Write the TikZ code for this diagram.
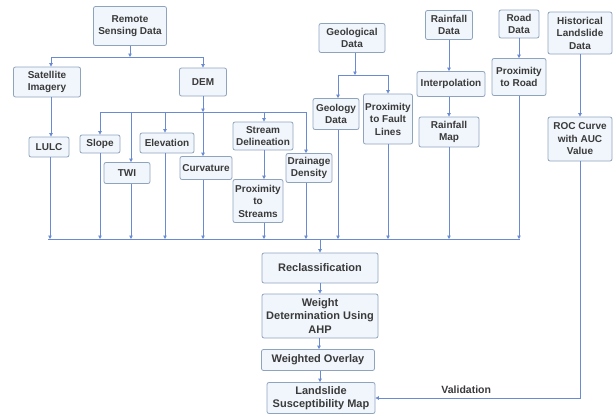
\documentclass[tikz,border=0pt]{standalone}
\usepackage{fontspec}
\setmainfont{Liberation Sans}
\usepackage{xcolor}
\usetikzlibrary{arrows.meta, positioning, calc}

\definecolor{boxline}{HTML}{8EA3BE}
\definecolor{boxfill}{HTML}{F1F6FC}
\definecolor{wire}{HTML}{6A8BD2}
\definecolor{txt}{HTML}{3A3A3A}

\begin{document}
\begin{tikzpicture}[
          x=1pt, y=-1pt,
          box/.style={rectangle, draw=boxline, fill=boxfill, rounded corners=2pt, line width=0.8pt, inner sep=1pt, align=center, text=txt, font=\fontsize{10}{12.5}\selectfont\bfseries},
          stage/.style={box, font=\fontsize{11}{13.3}\selectfont\bfseries},
          link/.style={draw=wire, line width=0.8pt},
          arrow/.style={link, -{Triangle[length=3.5pt, width=3.5pt]}}
        ]
          \useasboundingbox (0,0) rectangle (613,415);

          % Sources
          \node[box, minimum width=73pt, minimum height=39pt] (rsd) at (130,26) {Remote\\Sensing Data};
          \node[box, minimum width=67pt, minimum height=30pt] (sat) at (47,82) {Satellite\\Imagery};
          \node[box, minimum width=47pt, minimum height=28pt] (dem) at (203,82) {DEM};
          \node[box, minimum width=66pt, minimum height=29pt] (geol) at (352,38) {Geological\\Data};
          \node[box, minimum width=47pt, minimum height=29pt] (rain) at (449,25) {Rainfall\\Data};
          \node[box, minimum width=40pt, minimum height=28pt] (road) at (519,24) {Road\\Data};
          \node[box, minimum width=64pt, minimum height=42pt] (hist) at (580,33) {Historical\\Landslide\\Data};

          % Factor layers
          \node[box, minimum width=40pt, minimum height=20pt] (lulc) at (49,147) {LULC};
          \node[box, minimum width=40pt, minimum height=18pt] (slope) at (100,144) {Slope};
          \node[box, minimum width=46pt, minimum height=21pt] (twi) at (127,173) {TWI};
          \node[box, minimum width=54pt, minimum height=20pt] (elev) at (167,143) {Elevation};
          \node[box, minimum width=52pt, minimum height=23pt] (curv) at (206,168) {Curvature};
          \node[box, minimum width=60pt, minimum height=28pt] (sdel) at (263,136) {Stream\\Delineation};
          \node[box, minimum width=50pt, minimum height=43pt] (pstr) at (258,201) {Proximity\\to\\Streams};
          \node[box, minimum width=46pt, minimum height=29pt] (ddens) at (309,168) {Drainage\\Density};
          \node[box, minimum width=46pt, minimum height=31pt] (geo) at (336,114) {Geology\\Data};
          \node[box, minimum width=49pt, minimum height=50pt] (pfault) at (388,119) {Proximity\\to Fault\\Lines};
          \node[box, minimum width=68pt, minimum height=25pt] (interp) at (451,84) {Interpolation};
          \node[box, minimum width=60pt, minimum height=30pt] (rmap) at (449,132) {Rainfall\\Map};
          \node[box, minimum width=54pt, minimum height=37pt] (proad) at (519,77) {Proximity\\to Road};
          \node[box, minimum width=64pt, minimum height=44pt] (roc) at (580,139) {ROC Curve\\with AUC\\Value};

          % Processing chain
          \node[stage, minimum width=116pt, minimum height=30pt] (recl) at (320,268) {Reclassification};
          \node[stage, minimum width=116pt, minimum height=44pt] (ahp) at (320,316) {Weight\\Determination Using\\AHP};
          \node[stage, minimum width=113pt, minimum height=21pt] (wov) at (318,360) {Weighted Overlay};
          \node[stage, minimum width=108pt, minimum height=31pt] (lsm) at (321,398) {Landslide\\Susceptibility Map};

          % Junctions
          \coordinate (rsdj) at (130,57);
          \coordinate (demL) at (100,112);
          \coordinate (demj) at (203,112);
          \coordinate (demR) at (306,112);
          \coordinate (geoL) at (338,75);
          \coordinate (geoj) at (355,75);
          \coordinate (geoR) at (388,75);
          \coordinate (busL) at (48,239);
          \coordinate (busj) at (320,239);
          \coordinate (busR) at (520,239);

          % Remote sensing branches
          \draw[arrow] (rsd) -- (rsdj);
          \draw[arrow] (rsdj) -| ([xshift=4pt]sat.north);
          \draw[arrow] (rsdj) -| (dem.north);
          \draw[arrow] (sat.south -| 51,0) -- (51,0 |- lulc.north);

          % DEM derivatives
          \draw[link] (demL) -- (demR);
          \draw[arrow] (dem) -- (demj);
          \draw[arrow] (demL) -- (demL |- slope.north);
          \draw[arrow] (131,112) -- (131,0 |- twi.north);
          \draw[arrow] (165,112) -- (165,0 |- elev.north);
          \draw[arrow] (demj) -- (demj |- curv.north);
          \draw[arrow] (264,112) -- (264,0 |- sdel.north);
          \draw[arrow] (demR) -- (demR |- ddens.north);
          \draw[arrow] (sdel.south -| 264,0) -- (264,0 |- pstr.north);

          % Geology, rainfall, road, landslide inventory
          \draw[link] (geoL) -- (geoR);
          \draw[arrow] (geol.south -| geoj) -- (geoj);
          \draw[arrow] (geoL) -- (geoL |- geo.north);
          \draw[arrow] (geoR) -- (geoR |- pfault.north);
          \draw[arrow] (rain.south -| 449,0) -- (449,0 |- interp.north);
          \draw[arrow] (interp.south -| 449,0) -- (449,0 |- rmap.north);
          \draw[arrow] (road) -- (proad);
          \draw[arrow] (hist) -- (roc);

          % Factor bus
          \draw[link] (busL) -- (busR);
          \foreach \n/\x in {lulc/50, slope/100, twi/131, elev/165, curv/203, pstr/264, ddens/306, geo/338, pfault/388, rmap/449, proad/519}
            \draw[arrow] (\n.south -| \x,0) -- (\x,0 |- busL);
          \draw[arrow] (busj) -- (busj |- recl.north);

          % Chain
          \draw[arrow] (recl.south) -- (recl.south |- ahp.north);
          \draw[arrow] (ahp.south -| 319,0) -- (319,0 |- wov.north);
          \draw[arrow] (wov.south -| 320,0) -- (320,0 |- lsm.north);
          \draw[arrow] (roc.south) |- node[pos=0.778, above=1pt, text=txt, font=\fontsize{10.5}{12}\selectfont\bfseries] (valid) {Validation} (lsm.east);
        \end{tikzpicture}
\end{document}
